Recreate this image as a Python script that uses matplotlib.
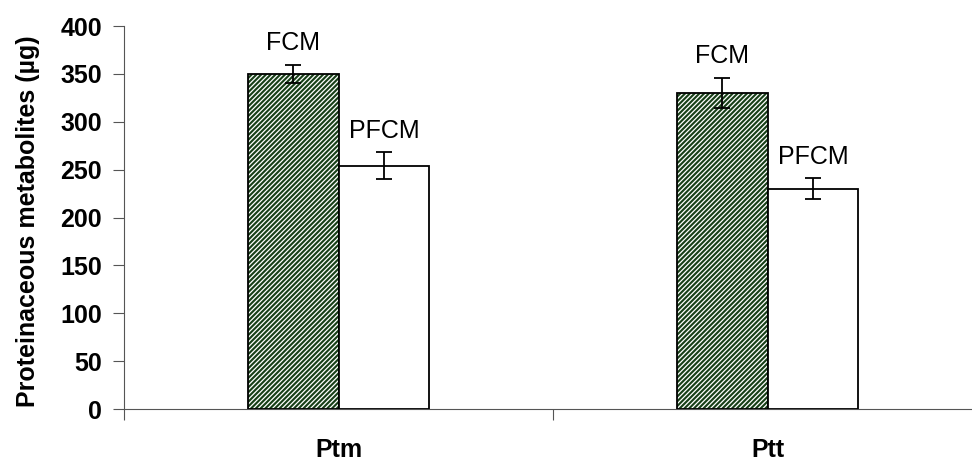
import matplotlib

matplotlib.use("Agg")
import matplotlib.pyplot as plt
import numpy as np

plt.rcParams["font.family"] = ["Liberation Sans", "DejaVu Sans"]
plt.rcParams["hatch.linewidth"] = 0.9

# data
categories = ["Ptm", "Ptt"]
series = ["FCM", "PFCM"]
fcm_values = [350, 330]
fcm_errors = [9.5, 16]
pfcm_values = [254, 230]
pfcm_errors = [14, 11]
y_ticks = [0, 50, 100, 150, 200, 250, 300, 350, 400]

GREEN = "#173f17"
AXIS = "#555555"

fig = plt.figure(figsize=(9.72, 4.62), dpi=100)
ax = fig.add_axes([0.1276, 0.1147, 0.8827, 0.829])

centers = np.arange(len(categories)) + 0.5
width = 0.212

# hatched FCM bars: green with white stripes, then a black outline on top
ax.bar(centers - width / 2, fcm_values, width, color=GREEN, edgecolor="white",
       hatch="///////", linewidth=0, zorder=2)
ax.bar(centers - width / 2, fcm_values, width, fill=False, edgecolor="black",
       linewidth=1.3, zorder=3)
ax.bar(centers + width / 2, pfcm_values, width, color="white", edgecolor="black",
       linewidth=1.3, zorder=3)

ax.errorbar(centers - width / 2, fcm_values, yerr=fcm_errors, fmt="none",
            ecolor="black", elinewidth=1.3, capsize=6, capthick=1.3, zorder=4)
ax.errorbar(centers + width / 2, pfcm_values, yerr=pfcm_errors, fmt="none",
            ecolor="black", elinewidth=1.3, capsize=6, capthick=1.3, zorder=4)

for x, v, e in zip(centers - width / 2, fcm_values, fcm_errors):
    ax.text(x, v + e + 10, series[0], ha="center", va="bottom", fontsize=18)
for x, v, e in zip(centers + width / 2, pfcm_values, pfcm_errors):
    ax.text(x, v + e + 10, series[1], ha="center", va="bottom", fontsize=18)

ax.set_xlim(0, len(categories))
ax.set_ylim(0, 400)
ax.set_yticks(y_ticks)
ax.set_yticklabels([str(t) for t in y_ticks], fontsize=18, fontweight="bold")
ax.set_xticks(np.arange(len(categories) + 1))
ax.set_xticklabels([])
ax.set_xticks(centers, minor=True)
ax.set_xticklabels(categories, minor=True, fontsize=18, fontweight="bold")
ax.tick_params(axis="x", which="minor", length=0, pad=21)
ax.tick_params(axis="x", which="major", length=8, width=0.8, color=AXIS)
ax.tick_params(axis="y", length=8, width=0.8, color=AXIS, pad=8)

for side in ["top", "right"]:
    ax.spines[side].set_visible(False)
for side in ["left", "bottom"]:
    ax.spines[side].set_color(AXIS)
    ax.spines[side].set_linewidth(0.8)

ax.set_ylabel("Proteinaceous metabolites (µg)", fontsize=18, fontweight="bold")
ax.yaxis.set_label_coords(-0.098, 0.49)

fig.savefig("out.png", dpi=100)
